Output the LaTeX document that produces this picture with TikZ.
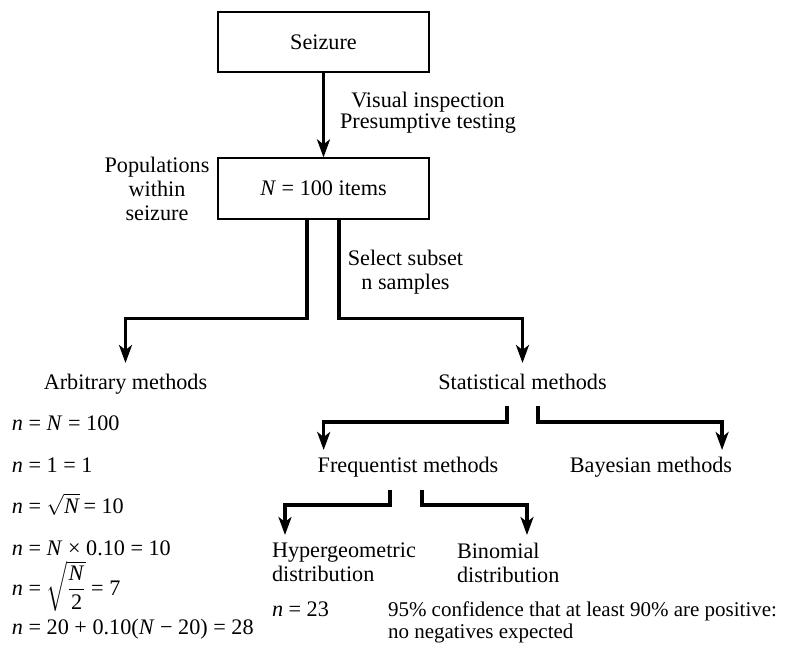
\documentclass[tikz,border=0pt]{standalone}
\usepackage{amsmath}
\usepackage{fontspec}
\setmainfont{Liberation Serif}
\usetikzlibrary{arrows.meta}

% italic variables
\newcommand\vn{\textit{n}}
\newcommand\vN{\textit{N}}

\begin{document}
\begin{tikzpicture}[x=1pt,y=-1pt,
  every node/.style={font=\fontsize{22.2}{24}\selectfont, inner sep=0pt, outer sep=0pt},
  box/.style={draw, line width=1.2pt, minimum width=211pt, minimum height=60pt, outer sep=0.6pt},
  flow/.style={line width=3.2pt, -{Stealth[length=18pt,width=13pt,inset=5pt]}},
  formula/.style={anchor=base west},
]
\fill[white] (0,0) rectangle (804,652);
\useasboundingbox (0,0) rectangle (804,652);

% boxes
\node[box] (seizure) at (323.5,42) {Seizure};
\node[box, minimum height=61pt] (items) at (323.5,188.5) {\vN{} = 100 items};

% side labels
\node[align=center, anchor=north] (insp) at (428,91.8) {Visual inspection\\[-3pt]Presumptive testing};
\node[align=center, anchor=north] (pop) at (157,156.8) {Populations\\within\\seizure};
\node[align=center, anchor=north] (sel) at (405.5,249.8) {Select subset\\n samples};

% method headings
\node[anchor=base] (arb) at (125.5,390) {Arbitrary methods};
\node[anchor=base] (stat) at (522.5,390) {Statistical methods};
\node[anchor=base] (freq) at (408,473) {Frequentist methods};
\node[anchor=base] (bayes) at (651,472.5) {Bayesian methods};
\node[align=left, anchor=north west] (hyper) at (272,542.8) {Hypergeometric\\distribution};
\node[align=left, anchor=north west] (binom) at (457,542.8) {Binomial\\distribution};

% arbitrary sample sizes
\node[formula] (f1) at (12,431) {\vn{} = \vN{} = 100};
\node[formula] (f2) at (12,473) {\vn{} = 1 = 1};
\node[formula] (f3) at (12,513) {\vn{} = $\sqrt{\hbox{\vN}}$\,= 10};
\node[formula] (f4) at (12,555) {\vn{} = \vN{} × 0.10 = 10};
\node[formula] (f5) at (12,595) {\vn{} = $\sqrt{\dfrac{\hbox{\vN}}{\hbox{2}}}$ = 7};
\node[formula] (f6) at (12,634) {\vn{} = 20 + 0.10(\vN{} − 20) = 28};

% hypergeometric result
\node[formula] (n23) at (272,616) {\vn{} = 23};
\node[align=left, anchor=north west, font=\fontsize{21}{24}\selectfont] (conf) at (388,601.6)
  {95\% confidence that at least 90\% are positive:\\[-2pt]no negatives expected};

% connectors
\draw[flow] (seizure.south) -- (items.north);

\draw[flow] ([xshift=-16.5pt]items.south) -- ++(0,99) -| ([yshift=27pt]arb.base);
\draw[flow] ([xshift=15.5pt]items.south) -- ++(0,99) -| ([yshift=27pt]stat.base);

\draw[flow] ([xshift=-15.5pt,yshift=-16pt]stat.base) -- ++(0,16) -| ([xshift=6pt,yshift=23pt]freq.base west);
\draw[flow] ([xshift=15.5pt,yshift=-16pt]stat.base) -- ++(0,16) -| ([xshift=-10pt,yshift=22.5pt]bayes.base east);

\draw[flow] ([xshift=-18pt,yshift=-17pt]freq.base) -- ++(0,15) -| ([xshift=13pt,yshift=7.8pt]hyper.north west);
\draw[flow] ([xshift=14pt,yshift=-17pt]freq.base) -- ++(0,15) -| ([xshift=70pt,yshift=7.8pt]binom.north west);
\end{tikzpicture}
\end{document}
